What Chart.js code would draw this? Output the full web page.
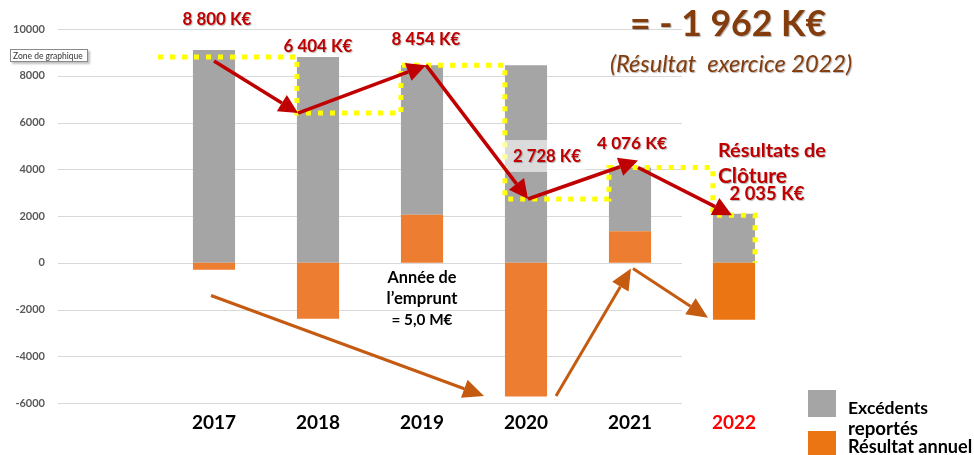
<!DOCTYPE html>
<html>
<head>
<meta charset="utf-8">
<script src="https://cdn.jsdelivr.net/npm/chart.js@4/dist/chart.umd.min.js"></script>
<style>
  body { margin:0; background:#fff; }
  canvas { display:block; }
</style>
</head>
<body>
<canvas id="c" width="974" height="455"></canvas>
<script>
// data (K€)
const years = ['', '2017', '2018', '2019', '2020', '2021', '2022'];
const excedents = [null, 9100, 8800, 6404, 8454, 2728, 2100];
const resultat = [null, -300, -2396, 2050, -5726, 1348, -2440];
const cloture = [8800, 6404, 8454, 2728, 4076, 2035];   // one per year 2017..2022
const yTicks = [-6000, -4000, -2000, 0, 2000, 4000, 6000, 8000, 10000];

const GREY = '#A5A5A5', ORANGE = '#ED7D31', ORANGE22 = '#EA7512';
const RED = '#C00000', BROWN = '#843C0C', ARROW_OR = '#C55A11';
const FONT = 'Lato, "Open Sans", sans-serif';

function kEuro(v){ return v.toLocaleString('fr-FR').replace(/\s/g,' ') + ' K€'; }

function fitText(ctx, s, x, y, w, style, color, align){
  ctx.font = style + ' 20px ' + FONT;
  const size = 20 * w / ctx.measureText(s).width;
  ctx.font = style + ' ' + size.toFixed(1) + 'px ' + FONT;
  ctx.fillStyle = color;
  ctx.textAlign = align || 'center';
  ctx.textBaseline = 'middle';
  ctx.fillText(s, x, y);
}

function arrow(ctx, x1, y1, x2, y2, color, lw, hl, hw){
  const a = Math.atan2(y2-y1, x2-x1);
  const bx = x2 - Math.cos(a)*hl, by = y2 - Math.sin(a)*hl;
  ctx.strokeStyle = color; ctx.fillStyle = color; ctx.lineWidth = lw;
  ctx.beginPath(); ctx.moveTo(x1, y1); ctx.lineTo(bx, by); ctx.stroke();
  ctx.beginPath();
  ctx.moveTo(x2, y2);
  ctx.lineTo(bx + Math.sin(a)*hw/2, by - Math.cos(a)*hw/2);
  ctx.lineTo(bx - Math.sin(a)*hw/2, by + Math.cos(a)*hw/2);
  ctx.closePath(); ctx.fill();
}

const gridPlugin = {
  id: 'grid',
  beforeDatasetsDraw(chart){
    const {ctx, chartArea} = chart;
    const xs = chart.scales.x, ys = chart.scales.y;
    const step = xs.getPixelForValue(1) - xs.getPixelForValue(0);
    const right = xs.getPixelForValue(5) + step/2;   // grid stops after 2021
    ctx.save();
    ctx.strokeStyle = '#D9D9D9'; ctx.lineWidth = 1;
    for (const t of yTicks){
      const y = Math.round(ys.getPixelForValue(t)) + 0.5;
      ctx.beginPath(); ctx.moveTo(chartArea.left, y); ctx.lineTo(right, y); ctx.stroke();
    }
    ctx.restore();
  }
};

const annotPlugin = {
  id: 'annot',
  afterDatasetsDraw(chart){
    const {ctx} = chart;
    const xs = chart.scales.x, ys = chart.scales.y;
    const X = i => xs.getPixelForValue(i), Y = v => ys.getPixelForValue(v);
    const bar = chart.getDatasetMeta(1).data;
    const half = bar[1].width / 2;
    ctx.save();

    // yellow dotted steps between closing results
    ctx.strokeStyle = '#FFFF00'; ctx.lineWidth = 5; ctx.setLineDash([5, 7]);
    ctx.beginPath();
    ctx.moveTo(X(1) - 56, Y(cloture[0]));
    for (let i = 1; i < cloture.length; i++){
      const x = bar[i+1].x - half;
      ctx.lineTo(x, Y(cloture[i-1]));
      ctx.lineTo(x, Y(cloture[i]));
    }
    const xe = bar[6].x + half;
    ctx.lineTo(xe, Y(cloture[5]));
    ctx.lineTo(xe, Y(0));
    ctx.stroke();
    ctx.setLineDash([]);

    // light box behind 2 728 K€
    ctx.fillStyle = 'rgba(255,255,255,0.6)';
    ctx.fillRect(X(4) - 24, 140, 84, 32);

    // red arrows linking closing results
    const dx = [0, -20, 4, 2, 8, -2];
    for (let i = 0; i < cloture.length - 1; i++){
      arrow(ctx, X(i+1) + dx[i], Y(cloture[i]) + (i === 0 ? 4 : 0),
                 X(i+2) + dx[i+1], Y(cloture[i+1]) - (i === 3 ? 7 : 0), RED, 3.5, 19, 19);
    }

    // orange arrows (annual result trend)
    arrow(ctx, X(1) - 3, Y(-1400), X(4) - 42, Y(-5700), ARROW_OR, 3, 21, 19);
    arrow(ctx, X(4) + 30, Y(-5700), X(5) + 1, Y(-250), ARROW_OR, 3, 21, 19);
    arrow(ctx, X(5) + 3, Y(-250), X(6) - 26, Y(-2350), ARROW_OR, 3, 21, 19);

    // value labels
    ctx.shadowColor = 'rgba(0,0,0,0.3)'; ctx.shadowOffsetX = 1; ctx.shadowOffsetY = 1; ctx.shadowBlur = 1;
    fitText(ctx, kEuro(cloture[0]), X(1) + 3, 20, 69, 'bold', RED);
    fitText(ctx, kEuro(cloture[1]), X(2), 47, 69, 'bold', RED);
    fitText(ctx, kEuro(cloture[2]), X(3) + 4, 40, 69, 'bold', RED);
    fitText(ctx, kEuro(cloture[3]), X(4) + 21, 157, 68, 'bold', RED);
    fitText(ctx, kEuro(cloture[4]), X(5) + 2, 143, 70, 'bold', RED);
    fitText(ctx, 'Résultats de', X(6) - 16, 151, 108, 'bold', RED, 'left');
    fitText(ctx, 'Clôture', X(6) - 16, 176, 69, 'bold', RED, 'left');
    fitText(ctx, kEuro(cloture[5]), X(6) + 33, 194, 75, 'bold', RED);

    // title block
    fitText(ctx, '= - 1 962 K€', 728, 25, 196, 'bold', BROWN);
    fitText(ctx, '(Résultat  exercice 2022)', 731, 64, 242, 'italic', BROWN);
    ctx.shadowColor = 'transparent';

    // loan note
    fitText(ctx, 'Année de', X(3), 278, 69, 'bold', '#000');
    fitText(ctx, 'l’emprunt', X(3), 299, 71, 'bold', '#000');
    fitText(ctx, '= 5,0 M€', X(3), 320, 61, 'bold', '#000');

    // legend
    ctx.fillStyle = GREY; ctx.fillRect(808, 390, 28, 27);
    ctx.fillStyle = ORANGE22; ctx.fillRect(808, 431, 28, 24);
    fitText(ctx, 'Excédents', 848, 408, 80, 'bold', '#000', 'left');
    fitText(ctx, 'reportés', 848, 429, 70, 'bold', '#000', 'left');
    fitText(ctx, 'Résultat annuel', 848, 447, 124, 'bold', '#000', 'left');

    // "Zone de graphique" hint box
    ctx.shadowColor = 'rgba(0,0,0,0.25)'; ctx.shadowOffsetX = 2; ctx.shadowOffsetY = 2; ctx.shadowBlur = 2;
    ctx.fillStyle = '#fff'; ctx.fillRect(10, 49, 78, 13);
    ctx.shadowColor = 'transparent';
    ctx.strokeStyle = '#8a8a8a'; ctx.lineWidth = 1; ctx.strokeRect(10.5, 49.5, 77, 12);
    ctx.font = '8.5px ' + FONT; ctx.fillStyle = '#333'; ctx.textAlign = 'left'; ctx.textBaseline = 'middle';
    ctx.fillText('Zone de graphique', 13, 56);

    ctx.restore();
  }
};

new Chart(document.getElementById('c'), {
  type: 'bar',
  data: {
    labels: years,
    datasets: [
      { label: 'Résultat annuel', data: resultat,
        backgroundColor: years.map(y => y === '2022' ? ORANGE22 : ORANGE) },
      { label: 'Excédents reportés', data: excedents, backgroundColor: GREY }
    ]
  },
  options: {
    responsive: false,
    animation: false,
    devicePixelRatio: 1,
    barPercentage: 0.405,
    categoryPercentage: 1,
    layout: { padding: { top: 29, right: 188, left: 0, bottom: 0 } },
    plugins: { legend: { display: false }, tooltip: { enabled: false } },
    scales: {
      x: {
        stacked: true,
        grid: { display: false, drawTicks: false },
        border: { display: false },
        ticks: {
          padding: 8,
          font: { family: FONT, weight: 'bold', size: 19 },
          color: c => c.index === 6 ? '#FF0000' : '#000'
        },
        afterFit: s => { s.height = 52; }
      },
      y: {
        stacked: true,
        min: -6000, max: 10000,
        grid: { display: false, drawTicks: false },
        border: { display: false },
        ticks: {
          stepSize: 2000, padding: 13,
          font: { family: FONT, weight: 'bold', size: 11 },
          color: '#595959',
          callback: v => String(v)
        },
        afterFit: s => { s.width = 58; }
      }
    }
  },
  plugins: [gridPlugin, annotPlugin]
});
</script>
</body>
</html>
